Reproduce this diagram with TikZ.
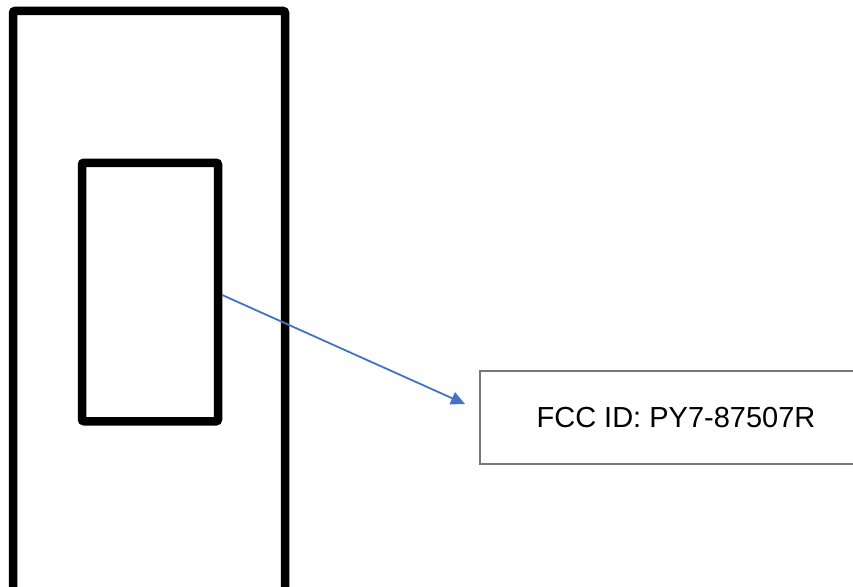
\documentclass[tikz,border=0pt]{standalone}
\usepackage{fontspec}
\setmainfont{Liberation Sans}
\usetikzlibrary{arrows.meta}
\definecolor{arrowblue}{RGB}{68,114,196}
\definecolor{boxgray}{RGB}{120,120,120}
\begin{document}
\begin{tikzpicture}[x=1pt,y=-1pt,
  thickbox/.style={draw=black, line width=8.5pt, rounded corners=2pt, inner sep=0pt, fill=none},
  labelbox/.style={draw=boxgray, line width=1.1pt, inner sep=0pt, minimum width=392pt, minimum height=93pt,
    font=\fontsize{29}{34}\selectfont},
  pointer/.style={draw=arrowblue, line width=1.8pt, -{Triangle[length=14pt,width=13pt]}}]
\useasboundingbox (0,0) rectangle (853,586);
\clip (0,0) rectangle (853,586);
\fill[white] (0,0) rectangle (853,586);
\node[thickbox, minimum width=272pt, minimum height=589pt] (outer) at (149,305.5) {};
\node[thickbox, minimum width=136pt, minimum height=258.5pt] (inner) at (150,292) {};
\node[labelbox] (label) at (676,417.5) {FCC ID: PY7-87507R};
\coordinate (tip) at (465,404);
\draw[pointer] ([yshift=-3pt]inner.east) -- (tip);
\end{tikzpicture}
\end{document}
